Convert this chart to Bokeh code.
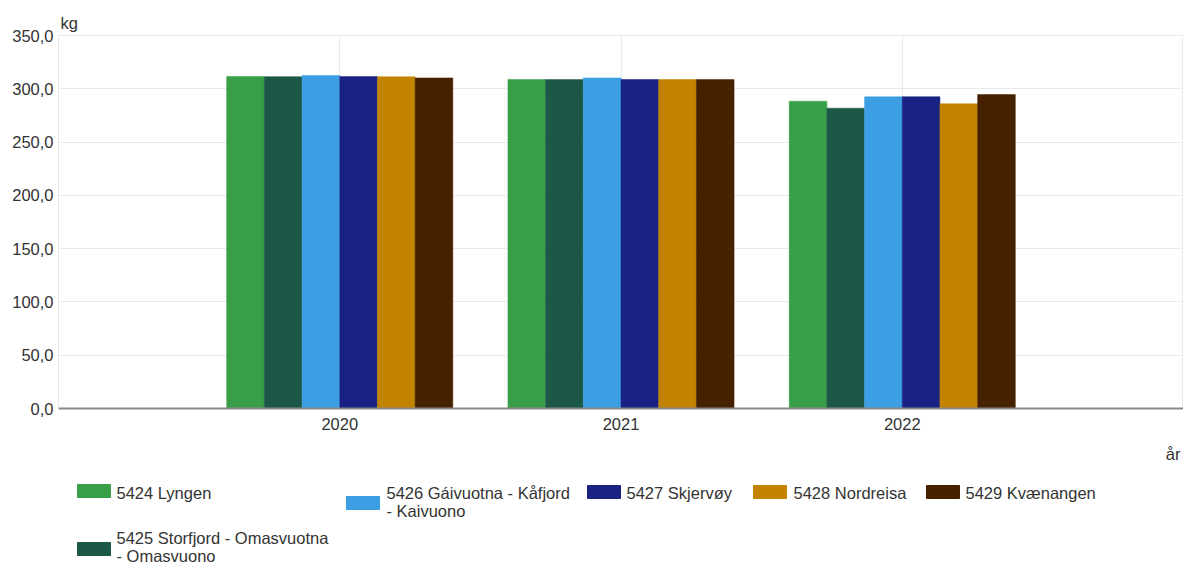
from bokeh.plotting import figure
from bokeh.models import Range1d, FixedTicker, ColumnDataSource, Title
from bokeh.layouts import column
from bokeh.embed import file_html
from bokeh.resources import INLINE
from bokeh.core.properties import value

# ---------------- data ----------------
years = ["2020", "2021", "2022"]
series_names = [
    "5424 Lyngen",
    "5425 Storfjord - Omasvuotna - Omasvuono",
    "5426 Gáivuotna - Kåfjord - Kaivuono",
    "5427 Skjervøy",
    "5428 Nordreisa",
    "5429 Kvænangen",
]
lyngen = [311.6, 308.8, 288.4]
storfjord = [311.4, 308.6, 281.8]
kafjord = [312.5, 310.2, 292.5]
skjervoy = [311.5, 308.7, 292.6]
nordreisa = [311.3, 308.7, 285.9]
kvaenangen = [310.2, 308.6, 294.6]
series_values = [lyngen, storfjord, kafjord, skjervoy, nordreisa, kvaenangen]
colors = ["#389e47", "#1b5847", "#3d9fe3", "#192183", "#c28400", "#462100"]
y_ticks = [0, 50, 100, 150, 200, 250, 300, 350]
y_tick_labels = ["0,0", "50,0", "100,0", "150,0", "200,0", "250,0", "300,0", "350,0"]
y_unit = "kg"
x_unit = "år"
# legend label lines (as wrapped in the original)
legend_lines = [
    ["5424 Lyngen"],
    ["5425 Storfjord - Omasvuotna", "- Omasvuono"],
    ["5426 Gáivuotna - Kåfjord", "- Kaivuono"],
    ["5427 Skjervøy"],
    ["5428 Nordreisa"],
    ["5429 Kvænangen"],
]

FONT = "Liberation Sans"
TXT = "#333333"
FS = "16.5px"
W = 1183
LEFT = 58
MAIN_H = 440

# ---------------- main chart ----------------
p = figure(width=W, height=MAIN_H, output_backend="svg", toolbar_location=None,
           x_range=Range1d(0, 4), y_range=Range1d(0, 350),
           min_border_left=LEFT, min_border_right=0, min_border_top=35,
           min_border_bottom=MAIN_H - 408, outline_line_color="#e6ebed",
           title=None)

bar_w = 0.134
n = len(series_values)
for j, vals in enumerate(series_values):
    xs = [i + 1 + (j - (n - 1) / 2) * bar_w for i in range(len(years))]
    src = ColumnDataSource(dict(x=xs, top=vals))
    p.vbar(x="x", top="top", width=bar_w, bottom=0, source=src,
           fill_color=colors[j], line_color=colors[j], line_width=0.5)

# axes
p.xaxis.ticker = FixedTicker(ticks=[1, 2, 3])
p.xaxis.major_label_overrides = {1: years[0], 2: years[1], 3: years[2]}
p.yaxis.ticker = FixedTicker(ticks=y_ticks)
p.yaxis.major_label_overrides = {t: l for t, l in zip(y_ticks, y_tick_labels)}

for ax in (p.xaxis, p.yaxis):
    ax.major_tick_line_color = None
    ax.minor_tick_line_color = None
    ax.major_tick_out = 0
    ax.major_tick_in = 0
    ax.minor_tick_out = 0
    ax.major_label_text_font = FONT
    ax.major_label_text_font_size = FS
    ax.major_label_text_color = TXT
p.yaxis.major_label_standoff = 5
p.xaxis.major_label_standoff = 9
p.xaxis.axis_line_color = "#8a8a8a"
p.xaxis.axis_line_width = 2
p.yaxis.axis_line_color = "#e6e9eb"

p.xgrid.ticker = FixedTicker(ticks=[1, 2, 3])
p.xgrid.grid_line_color = "#e6ebed"
p.ygrid.grid_line_color = "#e6ebed"

unit_title = Title(text=y_unit, align="left", offset=2, standoff=7,
                   text_font=FONT, text_font_size=FS, text_color=TXT,
                   text_font_style="normal")
p.add_layout(unit_title, "above")

# ---------------- legend / lower area ----------------
LH = 565 - MAIN_H
lg = figure(width=W, height=LH, output_backend="svg", toolbar_location=None,
            x_range=Range1d(LEFT, W), y_range=Range1d(565, MAIN_H),
            x_axis_type=None, y_axis_type=None,
            min_border_left=LEFT, min_border_right=0, min_border_top=0,
            min_border_bottom=0, outline_line_color=None, title=None)

sw_left = [77, 77, 346, 587, 753, 926]
sw_top = [484, 542, 496, 485, 485, 485]
sw_w, sw_h = 33, 13
txt_x = [116, 116, 386, 626, 793, 965]
txt_y = [492, 537, 492, 492, 492, 492]
line_h = 18

lg.quad(left=sw_left, right=[l + sw_w for l in sw_left],
        top=sw_top, bottom=[t + sw_h for t in sw_top],
        fill_color=colors, line_color=colors)

tx, ty, tt = [], [], []
for k, lines in enumerate(legend_lines):
    for m, line in enumerate(lines):
        tx.append(txt_x[k])
        ty.append(txt_y[k] + m * line_h)
        tt.append(line)
lg.text(x=tx, y=ty, text=tt, text_font=value(FONT), text_font_size=FS,
        text_color=TXT, text_align="left", text_baseline="middle")

# x-axis unit label at the lower right
lg.text(x=[1180], y=[453], text=[x_unit], text_font=value(FONT),
        text_font_size=FS, text_color=TXT, text_align="right",
        text_baseline="middle")

layout = column(p, lg, spacing=0)
open("out.html", "w").write(file_html(layout, INLINE))
